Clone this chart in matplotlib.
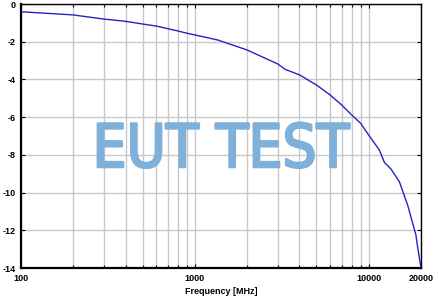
import numpy as np
import matplotlib
matplotlib.use("Agg")
import matplotlib.pyplot as plt
import matplotlib.patheffects as pe
from matplotlib.ticker import FixedLocator, NullFormatter

# curve (frequency in MHz, level in dB)
freq = [100, 200, 300, 400, 500, 600, 700, 800, 900, 1000, 1356, 2000,
        3000, 3300, 4000, 5000, 6000, 7000, 8000, 9000, 10000, 11520,
        12310, 13430, 15010, 16750, 18700, 19120, 20000]
level = [-0.41, -0.58, -0.80, -0.92, -1.06, -1.17, -1.31, -1.43, -1.55,
         -1.64, -1.91, -2.44, -3.18, -3.46, -3.76, -4.29, -4.82, -5.36,
         -5.89, -6.33, -6.95, -7.74, -8.40, -8.75, -9.42, -10.66, -12.25,
         -12.87, -14.0]

xticks = [100, 1000, 10000, 20000]
xminor = [200, 300, 400, 500, 600, 700, 800, 900,
          2000, 3000, 4000, 5000, 6000, 7000, 8000, 9000]
yticks = [0, -2, -4, -6, -8, -10, -12, -14]

plt.rcParams['font.family'] = ['Liberation Sans', 'DejaVu Sans']

fig = plt.figure(figsize=(4.38, 2.99), dpi=100)
ax = fig.add_axes([21 / 438, 31 / 299, 400 / 438, 264 / 299])

ax.set_xscale('log')
ax.set_xlim(100, 20000)
ax.set_ylim(-14, 0)

ax.xaxis.set_major_locator(FixedLocator(xticks))
ax.xaxis.set_minor_locator(FixedLocator(xminor))
ax.xaxis.set_minor_formatter(NullFormatter())
ax.set_xticks(xticks)
ax.set_xticklabels([str(v) for v in xticks])
ax.set_yticks(yticks)
ax.set_yticklabels([str(v) for v in yticks])

ax.grid(True, which='both', color='#c8c8c8', linewidth=1.0)
ax.set_axisbelow(True)

ax.plot(freq, level, color='#2323c4', linewidth=1.0, zorder=3)

# watermark: condensed face, strokes thickened with a same-colour outline
wm_color = '#7eb0d9'
ax.text(0.5, 0.445, 'EUT TEST', transform=ax.transAxes, ha='center',
        va='center', fontsize=43, color=wm_color,
        family='DejaVu Sans', fontstretch='condensed', zorder=4,
        path_effects=[pe.Stroke(linewidth=1.8, foreground=wm_color),
                      pe.Normal()])

for side in ['left', 'bottom']:
    ax.spines[side].set_linewidth(1.6)
for side in ['top', 'right']:
    ax.spines[side].set_linewidth(1.0)

ax.tick_params(which='both', direction='in', top=True, right=True,
               length=3, width=0.8, labelsize=6.5, pad=4)
ax.tick_params(which='minor', length=2)
for lab in ax.get_xticklabels() + ax.get_yticklabels():
    lab.set_fontweight('bold')

ax.set_xlabel('Frequency [MHz]', fontsize=6.5, fontweight='bold', labelpad=3)

fig.savefig('out.png', dpi=100)
